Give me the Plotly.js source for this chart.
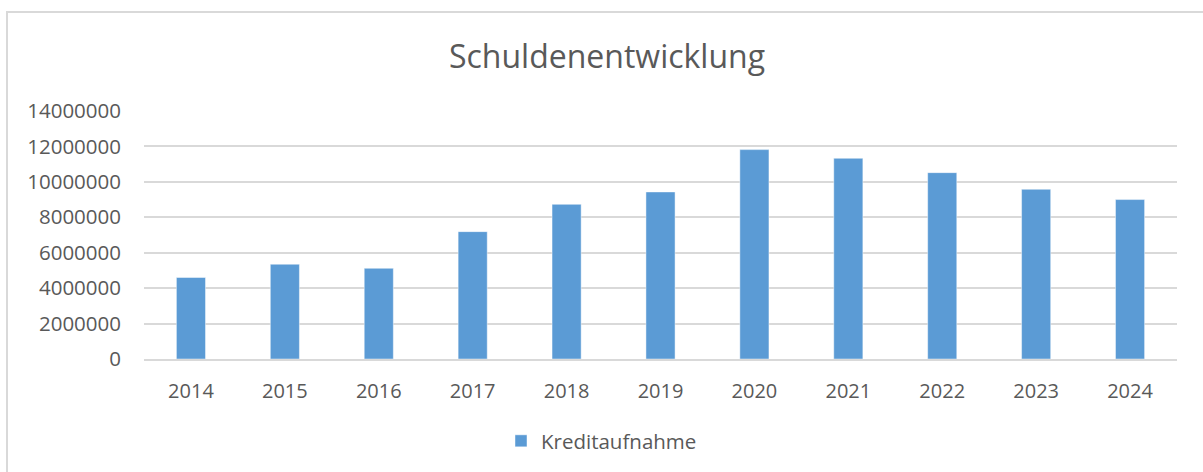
<!DOCTYPE html>
<html>
<head>
<meta charset="utf-8">
<script src="https://cdn.plot.ly/plotly-3.0.1.min.js"></script>
<style>
html,body{margin:0;padding:0;background:#fff;}
#wrap{position:relative;width:1203px;height:472px;overflow:hidden;}
#frame{position:absolute;left:6px;top:11px;width:1250px;height:500px;border-left:2px solid #D9D9D9;border-top:2px solid #D9D9D9;pointer-events:none;z-index:5;}
#chart{position:absolute;left:0;top:0;width:1203px;height:472px;}
</style>
</head>
<body>
<div id="wrap"><div id="chart"></div><div id="frame"></div></div>
<script>
const years = ['2014','2015','2016','2017','2018','2019','2020','2021','2022','2023','2024'];
const kreditaufnahme = [4600000, 5350000, 5120000, 7190000, 8730000, 9430000, 11820000, 11330000, 10520000, 9580000, 9000000];
const yTicks = [0, 2000000, 4000000, 6000000, 8000000, 10000000, 12000000, 14000000];
const yTickLabels = ['0','2000000','4000000','6000000','8000000','10000000','12000000','14000000'];

const font = 'Open Sans, sans-serif';
const textColor = '#595959';

const trace = {
  type: 'bar',
  x: years,
  y: kreditaufnahme,
  name: 'Kreditaufnahme',
  marker: {color: '#5B9BD5', line: {color: 'rgba(255,255,255,0.45)', width: 1}},
  hoverinfo: 'x+y'
};

const layout = {
  width: 1203,
  height: 472,
  paper_bgcolor: '#fff',
  plot_bgcolor: '#fff',
  margin: {l: 144, r: 26, t: 111, b: 113, pad: 0},
  bargap: 0.69,
  title: {
    text: 'Schuldenentwicklung',
    font: {family: font, size: 32, color: textColor},
    x: 607/1203, xanchor: 'center', xref: 'container',
    y: 1 - 57/472, yanchor: 'middle', yref: 'container'
  },
  xaxis: {
    type: 'category',
    showgrid: false,
    showline: true,
    linecolor: '#D9D9D9',
    linewidth: 2,
    ticks: '',
    ticklabelstandoff: 13,
    tickfont: {family: font, size: 20, color: textColor},
    zeroline: false
  },
  yaxis: {
    range: [0, 14000000],
    tickvals: yTicks,
    ticktext: yTickLabels,
    showgrid: true,
    gridcolor: '#D9D9D9',
    gridwidth: 2,
    showline: false,
    zeroline: false,
    ticks: '',
    ticklabelstandoff: 22,
    tickfont: {family: font, size: 20.5, color: textColor}
  },
  showlegend: true,
  legend: {
    orientation: 'h',
    x: 0.5, xanchor: 'center', xref: 'container',
    y: 1 - 441/472, yanchor: 'middle', yref: 'container',
    font: {family: font, size: 20.5, color: textColor},
    itemwidth: 30
  }
};

Plotly.newPlot('chart', [trace], layout, {displayModeBar: false, staticPlot: true});
</script>
</body>
</html>
